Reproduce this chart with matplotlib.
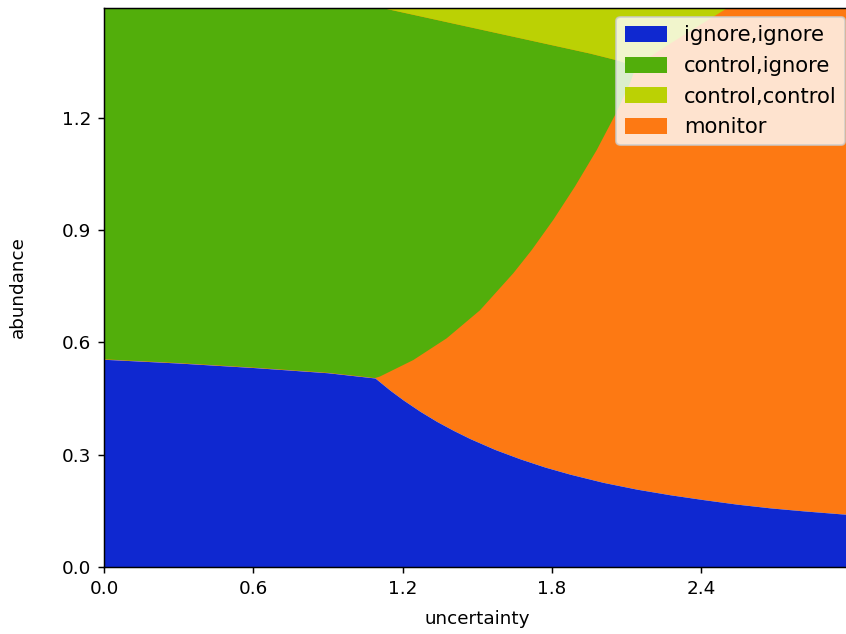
import matplotlib
matplotlib.use("Agg")
import matplotlib.pyplot as plt
from matplotlib.patches import Patch

# ---- data: region boundaries ----
x_max = 3.0
y_max = 1.495

# blue "ignore,ignore" upper edge: blue/green part then blue/orange part
blue_top_x = [0.0, 0.3, 0.6, 0.9, 1.089, 1.150, 1.203, 1.270, 1.337, 1.404, 1.471, 1.571,
              1.672, 1.772, 1.873, 2.007, 2.141, 2.275, 2.409, 2.543, 2.677, 2.811, 3.0]
blue_top_y = [0.555, 0.545, 0.533, 0.519, 0.505, 0.472, 0.446, 0.416, 0.389, 0.365, 0.343, 0.314,
              0.289, 0.267, 0.248, 0.226, 0.208, 0.193, 0.180, 0.168, 0.158, 0.150, 0.140]

# green "control,ignore" / orange "monitor" boundary (triple point upward)
go_x = [1.089, 1.109, 1.243, 1.377, 1.511, 1.645, 1.719, 1.806, 1.893, 1.980, 2.058, 2.116, 2.138]
go_y = [0.505, 0.509, 0.553, 0.611, 0.686, 0.785, 0.847, 0.928, 1.017, 1.114, 1.213, 1.296, 1.338]

# green / light-green "control,control" boundary (right triple point to top edge)
gl_x = [2.138, 2.061, 1.953, 1.109]
gl_y = [1.338, 1.354, 1.372, 1.495]

# light-green / orange boundary (triple point to top edge)
lo_x = [2.138, 2.250, 2.380, 2.509]
lo_y = [1.338, 1.388, 1.442, 1.495]

labels = ["ignore,ignore", "control,ignore", "control,control", "monitor"]
colors = ["#0f28d0", "#52ae0b", "#bbd104", "#fd7913"]

# ---- figure ----
dpi = 132
fig = plt.figure(figsize=(846 / dpi, 634 / dpi), dpi=dpi)
ax = fig.add_axes([104 / 846, (634 - 567) / 634, (850.5 - 104) / 846, (567 - 7.5) / 634])

# orange (monitor) above the blue region
ax.fill_between(blue_top_x, blue_top_y, y_max, color=colors[3], linewidth=0)
# blue (ignore,ignore)
ax.fill_between(blue_top_x, 0, blue_top_y, color=colors[0], linewidth=0)

# green polygon (control,ignore)
n_bg = blue_top_x.index(1.089)
gx = [0.0] + blue_top_x[:n_bg + 1] + go_x[1:] + gl_x[1:] + [0.0]
gy = [y_max] + blue_top_y[:n_bg + 1] + go_y[1:] + gl_y[1:] + [y_max]
ax.fill(gx, gy, color=colors[1], linewidth=0)

# light green polygon (control,control)
lx = list(reversed(gl_x)) + lo_x[1:][::-1]
ly = list(reversed(gl_y)) + lo_y[1:][::-1]
lx = list(reversed(gl_x))[:-1] + lo_x + [lo_x[-1]]
ly = list(reversed(gl_y))[:-1] + lo_y + [y_max]
ax.fill(lx, ly, color=colors[2], linewidth=0)

ax.set_xlim(0, x_max)
ax.set_ylim(0, y_max)
ax.set_xticks([0.0, 0.6, 1.2, 1.8, 2.4])
ax.set_yticks([0.0, 0.3, 0.6, 0.9, 1.2])
ax.set_xlabel("uncertainty", labelpad=6.5)
ax.set_ylabel("abundance", labelpad=19)
ax.spines["right"].set_visible(False)

handles = [Patch(facecolor=c, edgecolor="none", label=l) for c, l in zip(colors, labels)]
ax.legend(handles=handles, loc="upper right", fontsize=11.5,
          bbox_to_anchor=(845 / 846, 1 - 17 / 634), bbox_transform=fig.transFigure,
          borderaxespad=0, handlelength=2.0, handleheight=0.8)

fig.savefig("out.png", dpi=dpi)
